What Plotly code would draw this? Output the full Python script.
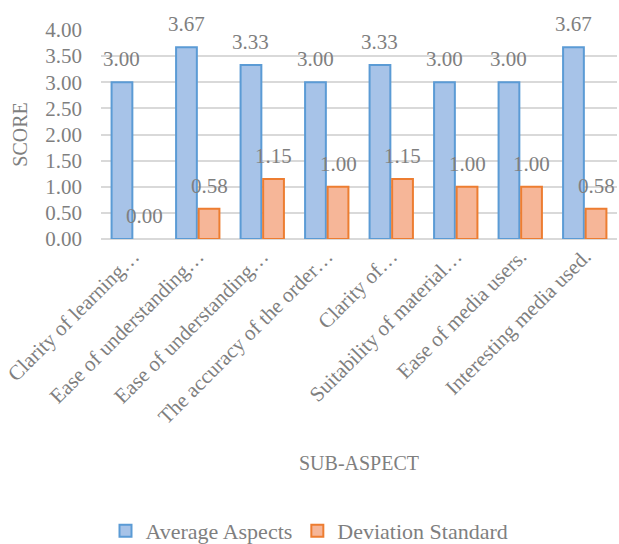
import plotly.graph_objects as go

categories = [
    "Clarity of learning…",
    "Ease of understanding…",
    "Ease of understanding…",
    "The accuracy of the order…",
    "Clarity of…",
    "Suitability of material…",
    "Ease of media users.",
    "Interesting media used.",
]
average_aspects = [3.00, 3.67, 3.33, 3.00, 3.33, 3.00, 3.00, 3.67]
deviation_standard = [0.00, 0.58, 1.15, 1.00, 1.15, 1.00, 1.00, 0.58]
y_ticks = [0, 0.5, 1, 1.5, 2, 2.5, 3, 3.5, 4]

FONT = "Liberation Serif"
TEXT = "#7f7f7f"
GRID = "#d9d9d9"
BAR_GAP = 0.30
GROUP_GAP = 0.08

x = list(range(len(categories)))
series = [
    ("Average Aspects", average_aspects, "#a7c3e8", "#5b9bd5"),
    ("Deviation Standard", deviation_standard, "#f6b698", "#ed7d31"),
]

fig = go.Figure()
for name, values, fill, edge in series:
    # zero-height bars get no outline
    widths = [0 if v == 0 else 2 for v in values]
    fig.add_trace(go.Bar(
        x=x, y=values, name=name, showlegend=False, legendgroup=name,
        offsetgroup=name,
        marker=dict(color=fill, line=dict(color=edge, width=widths)),
    ))
for name, values, fill, edge in series:
    # legend entries with a full outline, sharing the bar slot of their series
    fig.add_trace(go.Bar(
        x=[None], y=[None], name=name, legendgroup=name, offsetgroup=name,
        marker=dict(color=fill, line=dict(color=edge, width=2)),
    ))

# value labels above each bar
slot = (1 - BAR_GAP) / 2
for (name, values, fill, edge), sign in zip(series, (-1, 1)):
    for i, v in enumerate(values):
        fig.add_annotation(
            x=i + sign * slot / 2, y=v, text=f"{v:.2f}",
            showarrow=False, yanchor="middle", yshift=23,
            font=dict(family=FONT, size=21, color=TEXT),
        )

fig.update_layout(
    width=619, height=544,
    margin=dict(l=101, r=2, t=30, b=305),
    paper_bgcolor="white", plot_bgcolor="white",
    barmode="group", bargap=BAR_GAP, bargroupgap=GROUP_GAP,
    font=dict(family=FONT, size=20, color=TEXT),
    showlegend=True,
    legend=dict(
        orientation="h", xref="container", yref="container",
        x=0.5, xanchor="center", y=0.024, yanchor="middle",
        font=dict(family=FONT, size=22, color=TEXT),
        tracegroupgap=0,
    ),
    xaxis=dict(
        tickmode="array", tickvals=x, ticktext=categories,
        tickangle=-45, range=[-0.5, len(categories) - 0.5],
        showgrid=False, showline=False, ticks="", zeroline=False,
        tickfont=dict(family=FONT, size=21, color=TEXT),
        title=dict(text="SUB-ASPECT", standoff=28,
                   font=dict(family=FONT, size=20, color=TEXT)),
    ),
    yaxis=dict(
        range=[0, 4], tickvals=y_ticks, tickformat=".2f",
        showgrid=True, gridcolor=GRID, gridwidth=1.5,
        zeroline=True, zerolinecolor=GRID, zerolinewidth=1.5,
        showline=False, ticks="", ticklabelstandoff=18,
        tickfont=dict(family=FONT, size=21, color=TEXT),
        title=dict(text="SCORE", standoff=12,
                   font=dict(family=FONT, size=20, color=TEXT)),
    ),
)

fig.write_html("out.html")
